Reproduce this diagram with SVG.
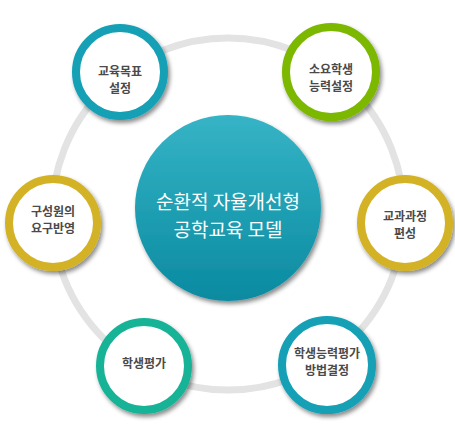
<svg xmlns="http://www.w3.org/2000/svg" width="455" height="428" viewBox="0 0 455 428">
<defs>
<linearGradient id="cg" x1="0" y1="0" x2="0" y2="1">
<stop offset="0" stop-color="#36b4c6"/>
<stop offset="1" stop-color="#0a8aa0"/>
</linearGradient>
<filter id="sh" x="-20%" y="-20%" width="150%" height="150%">
<feDropShadow dx="2" dy="3" stdDeviation="2" flood-color="#000" flood-opacity="0.45"/>
</filter>
<style>
.ring{fill:none;stroke:#e3e3e3;stroke-width:7}
.n{fill:#fff;stroke-width:8;filter:url(#sh)}
.lbl{font-family:"Noto Sans CJK KR","Noto Sans",sans-serif;font-size:12px;font-weight:bold;fill:#4a4a4a;text-anchor:middle}
.ct{font-family:"Noto Sans CJK KR","Noto Sans",sans-serif;font-size:19px;fill:#fff;text-anchor:middle}
</style>
</defs>
<rect width="455" height="428" fill="#fff"/>
<g id="connectors">
<circle class="ring" cx="228" cy="214" r="176"/>
</g>
<g id="center">
<circle cx="228" cy="208" r="93" fill="url(#cg)" filter="url(#sh)"/>
<text class="ct" x="228" y="209">순환적 자율개선형</text>
<text class="ct" x="228" y="237">공학교육 모델</text>
</g>
<g id="n1">
<circle class="n" cx="120" cy="72" r="44" stroke="#14a0b5"/>
<text class="lbl" x="120" y="76">교육목표</text>
<text class="lbl" x="120" y="93">설정</text>
</g>
<g id="n2">
<circle class="n" cx="331" cy="72" r="45" stroke="#7cb805"/>
<text class="lbl" x="331" y="74">소요학생</text>
<text class="lbl" x="331" y="91">능력설정</text>
</g>
<g id="n3">
<circle class="n" cx="53" cy="223" r="44" stroke="#d3b227"/>
<text class="lbl" x="53" y="216">구성원의</text>
<text class="lbl" x="53" y="233">요구반영</text>
</g>
<g id="n4">
<circle class="n" cx="405" cy="223" r="44" stroke="#d3b227"/>
<text class="lbl" x="405" y="221">교과과정</text>
<text class="lbl" x="405" y="238">편성</text>
</g>
<g id="n5">
<circle class="n" cx="144" cy="366" r="44" stroke="#19b397"/>
<text class="lbl" x="144" y="368">학생평가</text>
</g>
<g id="n6">
<circle class="n" cx="327" cy="365" r="45" stroke="#14a0b5"/>
<text class="lbl" x="327" y="358">학생능력평가</text>
<text class="lbl" x="327" y="375">방법결정</text>
</g>
</svg>
